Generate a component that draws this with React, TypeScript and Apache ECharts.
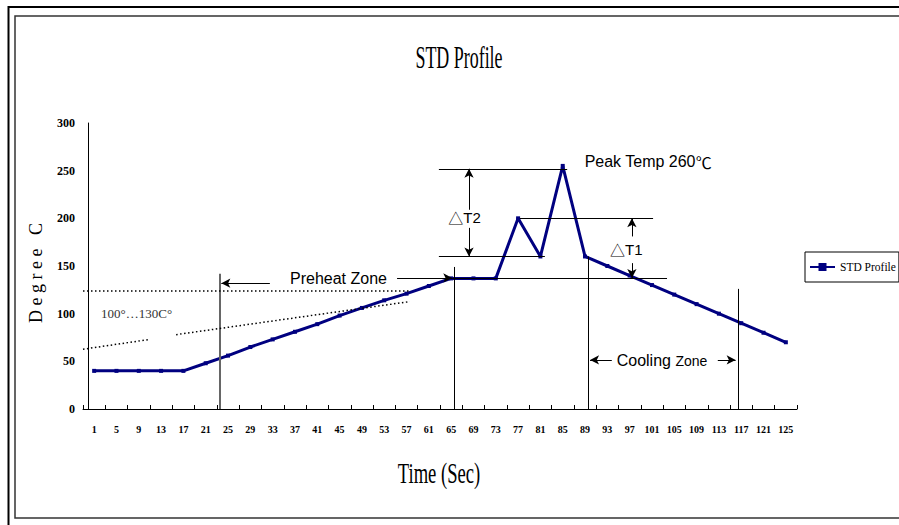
import React, { useEffect, useRef } from 'react';
import * as echarts from 'echarts';

// ---- data ----
const seconds = [
  '1', '5', '9', '13', '17', '21', '25', '29', '33', '37', '41', '45', '49', '53', '57', '61',
  '65', '69', '73', '77', '81', '85', '89', '93', '97', '101', '105', '109', '113', '117', '121', '125',
];
const profileTemp = [
  40, 40, 40, 40, 40, 48, 56, 65, 73, 81, 89, 98, 106, 114, 121, 129,
  137, 137, 137, 200, 160, 255, 160, 150, 140, 130, 120, 110, 100, 90, 80, 70,
];
const seriesName = 'STD Profile';
const yMin = 0;
const yMax = 300;
const yStep = 50;

// annotation guides in chart units: [sec1, degC1, sec2, degC2]
const grayLines = [[23.6, 0, 23.6, 142]];
const plainLines = [
  [65.5, 0, 65.5, 149],
  [65.2, 137.5, 103.7, 137.5],
  [62.8, 252, 85.8, 252],
  [62.8, 160, 81.8, 160],
  [77.3, 200, 101.2, 200],
  [89.5, 0, 89.5, 160],
  [116.5, 0, 116.5, 126],
];
const arrowLines = [
  [55.3, 137.5, 65.2, 137.5],
  [32.5, 132, 23.8, 132],
  [68.2, 209, 68.2, 252],
  [68.2, 190, 68.2, 160],
  [97.4, 181, 97.4, 200],
  [97.4, 153, 97.4, 137.5],
  [93.8, 51.5, 89.9, 51.5],
  [112.8, 51.5, 116, 51.5],
];
const dottedLines = [
  [-1, 124, 57.6, 124],
  [-1, 62.7, 11, 73],
  [15.7, 78, 57.6, 112.7],
];
const notes = [
  { text: 'Preheat Zone', s: 44.8, v: 136.5, size: 16, font: 'Liberation Sans', color: '#000' },
  { text: '100°…130C°', s: 8.6, v: 100, size: 13, font: 'Liberation Serif', color: '#333' },
  { text: '{t|△}T2', s: 67.4, v: 200.5, size: 15, font: 'Liberation Sans', color: '#000' },
  { text: '{t|△}T1', s: 96.4, v: 167, size: 15, font: 'Liberation Sans', color: '#000' },
  { text: 'Peak Temp 260{t|℃}', s: 100.3, v: 259.5, size: 16, font: 'Liberation Sans', color: '#000' },
  { text: '{a|Cooling} {b|Zone}', s: 102.8, v: 50.5, size: 16, font: 'Liberation Sans', color: '#000' },
];

const NAVY = '#000080';

function seg(l: number[], style: any, arrow: boolean) {
  return [
    { coord: [l[0], l[1]], symbol: 'none', lineStyle: style },
    { coord: [l[2], l[3]], symbol: arrow ? 'arrow' : 'none' },
  ];
}

export default function App() {
  const ref = useRef<HTMLDivElement>(null);
  useEffect(() => {
    if (!ref.current) return;
    const chart = echarts.init(ref.current, null, { renderer: 'svg' });
    const black = { color: '#000', width: 1, type: 'solid' };
    const gray = { color: '#666', width: 2, type: 'solid' };
    const dotted = { color: '#000', width: 1.5, type: [1.5, 2.5] };
    const markLineData = [
      ...grayLines.map((l) => seg(l, gray, false)),
      ...plainLines.map((l) => seg(l, black, false)),
      ...arrowLines.map((l) => seg(l, black, true)),
      ...dottedLines.map((l) => seg(l, dotted, false)),
    ];
    const option: any = {
      animation: false,
      backgroundColor: '#fff',
      graphic: [
        {
          type: 'rect',
          shape: { x: 8.5, y: 7, width: 1000, height: 1000 },
          style: { fill: 'none', stroke: '#000', lineWidth: 2 },
          silent: true,
        },
        {
          type: 'rect',
          shape: { x: 15, y: 16, width: 1000, height: 502 },
          style: { fill: 'none', stroke: '#333', lineWidth: 1.5 },
          silent: true,
        },
        {
          type: 'text',
          x: 459,
          y: 58,
          scaleX: 0.56,
          style: {
            text: 'STD Profile',
            font: '32px "Liberation Serif"',
            fill: '#000',
            align: 'center',
            verticalAlign: 'middle',
            textAlign: 'center',
            textVerticalAlign: 'middle',
          },
        },
        {
          type: 'text',
          x: 439,
          y: 473,
          scaleX: 0.62,
          style: {
            text: 'Time (Sec)',
            font: '30px "Liberation Serif"',
            fill: '#000',
            align: 'center',
            verticalAlign: 'middle',
            textAlign: 'center',
            textVerticalAlign: 'middle',
          },
        },
      ],
      legend: {
        data: [seriesName],
        left: 805,
        top: 252,
        orient: 'vertical',
        borderColor: '#000',
        borderWidth: 1,
        padding: [9, 3, 9, 4],
        itemWidth: 25,
        itemHeight: 10,
        itemGap: 0,
        textStyle: { fontFamily: 'Liberation Serif', fontSize: 11.5, color: '#000' },
      },
      grid: { left: 83, right: 102, top: 123, bottom: 116, containLabel: false },
      xAxis: [
        {
          type: 'category',
          data: seconds,
          boundaryGap: true,
          axisLine: { lineStyle: { color: '#000', width: 1 } },
          axisTick: { show: true, inside: true, length: 4, interval: 0, lineStyle: { color: '#000' } },
          axisLabel: {
            interval: 0,
            margin: 15,
            fontFamily: 'Liberation Serif',
            fontWeight: 'bold',
            fontSize: 10,
            color: '#000',
          },
          splitLine: { show: false },
        },
        {
          type: 'value',
          min: -1,
          max: 127,
          show: false,
        },
      ],
      yAxis: {
        type: 'value',
        min: yMin,
        max: yMax,
        interval: yStep,
        axisLine: { show: true, lineStyle: { color: '#000', width: 1 } },
        axisTick: { show: false },
        splitLine: { show: false },
        axisLabel: {
          margin: 8,
          fontFamily: 'Liberation Serif',
          fontWeight: 'bold',
          fontSize: 12,
          color: '#000',
        },
        name: 'D e g r e e   C',
        nameLocation: 'middle',
        nameGap: 38,
        nameRotate: 90,
        nameTextStyle: {
          fontFamily: 'Liberation Serif',
          fontSize: 18,
          color: '#000',
          padding: [0, 14, 0, 0],
        },
      },
      series: [
        {
          name: 'guides',
          type: 'line',
          xAxisIndex: 1,
          yAxisIndex: 0,
          data: [],
          silent: true,
          z: 2,
          markLine: {
            silent: true,
            animation: false,
            symbol: ['none', 'none'],
            symbolSize: [7, 9],
            label: { show: false },
            lineStyle: black,
            emphasis: { disabled: true },
            data: markLineData,
          },
          markPoint: {
            silent: true,
            animation: false,
            data: notes.map((n) => ({
              coord: [n.s, n.v],
              symbol: 'rect',
              symbolSize: 1,
              itemStyle: { color: 'rgba(0,0,0,0)' },
              label: {
                show: true,
                position: 'inside',
                formatter: n.text,
                fontFamily: n.font,
                fontSize: n.size,
                color: n.color,
                rich: {
                  a: { fontFamily: n.font, fontSize: 16, color: '#000' },
                  b: { fontFamily: n.font, fontSize: 14, color: '#000' },
                  t: { fontFamily: 'Noto Sans CJK SC', fontSize: n.size, color: '#000' },
                },
              },
            })),
          },
        },
        {
          name: seriesName,
          type: 'line',
          xAxisIndex: 0,
          yAxisIndex: 0,
          data: profileTemp,
          symbol: 'rect',
          symbolSize: 4,
          showSymbol: true,
          z: 3,
          lineStyle: { color: NAVY, width: 3 },
          itemStyle: { color: NAVY },
        },
      ],
    };
    chart.setOption(option);
    return () => chart.dispose();
  }, []);
  return (
    <div
      ref={ref}
      style={{ position: 'absolute', left: 0, top: 0, width: 899, height: 525 }}
    />
  );
}
